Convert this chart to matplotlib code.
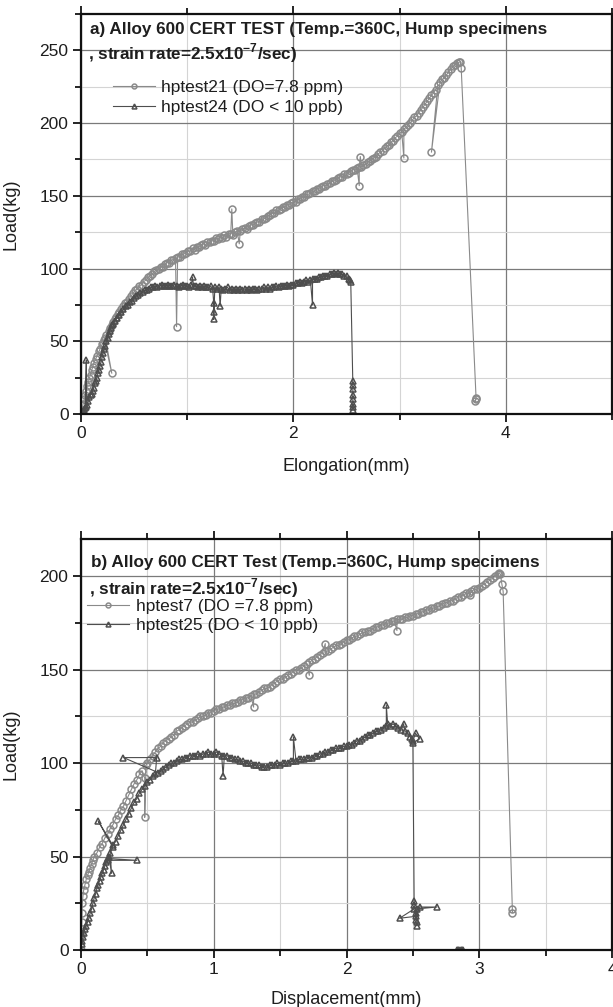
import numpy as np
import matplotlib
matplotlib.use("Agg")
from matplotlib import pyplot as plt
from matplotlib.ticker import MultipleLocator

plt.rcParams['font.family'] = ['Liberation Sans', 'DejaVu Sans']
plt.rcParams['mathtext.fontset'] = 'custom'
plt.rcParams['mathtext.rm'] = 'Liberation Sans'
plt.rcParams['mathtext.bf'] = 'Liberation Sans:bold'

nan = np.nan

# each array: columns = (elongation or displacement in mm, load in kg), in recorded order

# a) hptest21 (DO=7.8 ppm)
a_hp21 = np.array([
    [0.00, 0], [0.01, 3], [0.02, 7], [0.03, 10], [0.04, 13], [0.05, 16], [0.06, 19],
    [0.07, 22], [0.08, 25], [0.09, 27], [0.10, 30], [0.11, 32], [0.12, 35], [0.14, 38],
    [0.15, 40], [0.17, 43], [0.18, 45], [0.20, 48], [0.21, 49], [0.22, 51], [0.29, 28],
    [0.23, 52], [0.24, 54], [0.26, 57], [0.27, 59], [0.29, 61], [0.30, 63], [0.32, 65],
    [0.33, 67], [0.35, 69], [0.36, 70], [0.38, 72], [0.40, 74], [0.41, 76], [0.43, 77],
    [0.45, 79], [0.47, 81], [0.49, 83], [0.51, 85], [0.53, 86], [0.55, 88], [0.57, 89],
    [0.59, 91], [0.61, 92], [0.63, 94], [0.65, 95], [0.67, 96], [0.69, 98], [0.71, 99],
    [0.73, 100], [0.75, 101], [0.77, 101], [0.79, 103], [0.81, 104], [0.83, 104],
    [0.85, 106], [0.87, 106], [0.89, 107], [0.90, 60], [0.91, 108], [0.93, 108],
    [0.95, 110], [0.97, 110], [0.99, 111], [1.01, 112], [1.03, 112], [1.05, 114],
    [1.07, 113], [1.09, 115], [1.11, 115], [1.13, 116], [1.15, 117], [1.17, 116],
    [1.19, 118], [1.21, 118], [1.23, 119], [1.25, 119], [1.27, 121], [1.29, 120],
    [1.31, 122], [1.33, 121], [1.35, 123], [1.37, 122], [1.39, 124], [1.41, 124],
    [1.42, 141], [1.43, 123], [1.45, 125], [1.47, 126], [1.49, 117], [1.50, 126],
    [1.52, 127], [1.54, 128], [1.56, 127], [1.58, 129], [1.60, 130], [1.62, 130],
    [1.64, 131], [1.66, 132], [1.68, 132], [1.70, 134], [1.72, 134], [1.74, 135],
    [1.76, 136], [1.78, 137], [1.80, 138], [1.82, 138], [1.84, 140], [1.86, 140],
    [1.88, 141], [1.90, 142], [1.92, 142], [1.94, 144], [1.96, 144], [1.98, 145],
    [2.00, 146], [2.02, 146], [2.04, 148], [2.06, 148], [2.08, 149], [2.10, 149],
    [2.12, 151], [2.14, 151], [2.16, 152], [2.18, 153], [2.20, 153], [2.22, 155],
    [2.24, 155], [2.26, 156], [2.28, 157], [2.30, 157], [2.32, 158], [2.34, 159],
    [2.36, 160], [2.38, 160], [2.40, 161], [2.42, 162], [2.44, 163], [2.46, 163],
    [2.48, 165], [2.50, 165], [2.52, 166], [2.54, 167], [2.56, 168], [2.58, 168],
    [2.60, 169], [2.62, 157], [2.62, 170], [2.63, 177], [2.64, 170], [2.66, 171],
    [2.68, 172], [2.70, 173], [2.72, 174], [2.74, 175], [2.76, 176], [2.78, 177],
    [2.80, 179], [2.82, 180], [2.84, 181], [2.86, 183], [2.88, 184], [2.90, 185],
    [2.92, 187], [2.94, 188], [2.96, 190], [2.98, 191], [3.00, 193], [3.02, 194],
    [3.04, 176], [3.04, 196], [3.06, 197], [3.08, 199], [3.10, 200], [3.12, 202],
    [3.14, 204], [3.16, 205], [3.18, 207], [3.20, 209], [3.22, 211], [3.24, 213],
    [3.26, 215], [3.28, 217], [3.30, 219], [3.32, 221], [3.34, 223], [3.36, 226],
    [3.30, 180], [3.38, 228], [3.40, 230], [3.42, 231], [3.44, 233], [3.46, 235],
    [3.48, 237], [3.50, 239], [3.52, 240], [3.54, 241], [3.56, 242], [3.57, 242],
    [3.58, 238], [3.72, 11], [3.71, 9], [3.72, 10]])

# a) hptest24 (DO < 10 ppb)
a_hp24 = np.array([
    [0.00, 0], [0.01, 1], [0.02, 2], [0.03, 3], [0.04, 4], [0.05, 37], [0.05, 5],
    [0.06, 6], [0.07, 9], [0.08, 12], [0.09, 13], [0.10, 14], [0.11, 16], [0.12, 18],
    [0.13, 21], [0.14, 23], [0.15, 25], [0.16, 28], [0.17, 30], [0.18, 33], [0.19, 36],
    [0.20, 39], [0.21, 42], [0.22, 45], [0.23, 47], [0.24, 50], [0.25, 52], [0.26, 55],
    [0.27, 57], [0.28, 59], [0.29, 61], [0.30, 62], [0.32, 64], [0.34, 66], [0.36, 68],
    [0.38, 70], [0.40, 72], [0.42, 74], [0.44, 75], [0.46, 77], [0.48, 78], [0.50, 80],
    [0.52, 81], [0.54, 82], [0.56, 83], [0.58, 84], [0.60, 85], [0.62, 85], [0.64, 86],
    [0.66, 87], [0.68, 87], [0.70, 88], [0.72, 87], [0.74, 88], [0.76, 89], [0.78, 88],
    [0.80, 88], [0.82, 89], [0.84, 88], [0.86, 88], [0.88, 89], [0.90, 88], [0.92, 87],
    [0.94, 88], [0.96, 89], [0.98, 88], [1.00, 88], [1.02, 87], [1.04, 89], [1.05, 94],
    [1.06, 88], [1.08, 88], [1.10, 87], [1.12, 88], [1.14, 87], [1.16, 88], [1.18, 87],
    [1.20, 87], [1.22, 88], [1.24, 86], [1.25, 76], [1.25, 70], [1.25, 65], [1.26, 87],
    [1.28, 86], [1.30, 87], [1.31, 74], [1.32, 86], [1.34, 85], [1.36, 86], [1.38, 87],
    [1.40, 85], [1.42, 86], [1.44, 85], [1.46, 86], [1.48, 85], [1.50, 86], [1.52, 85],
    [1.54, 86], [1.56, 85], [1.58, 86], [1.60, 85], [1.62, 86], [1.64, 86], [1.66, 85],
    [1.68, 86], [1.70, 86], [1.72, 87], [1.74, 86], [1.76, 87], [1.78, 86], [1.80, 87],
    [1.82, 87], [1.84, 88], [1.86, 87], [1.88, 88], [1.90, 88], [1.92, 88], [1.94, 89],
    [1.96, 88], [1.98, 89], [2.00, 89], [2.02, 90], [2.04, 90], [2.06, 91], [2.08, 90],
    [2.10, 91], [2.12, 92], [2.14, 91], [2.16, 92], [2.18, 75], [2.18, 93], [2.20, 93],
    [2.22, 93], [2.24, 94], [2.26, 94], [2.28, 95], [2.30, 95], [2.32, 95], [2.34, 96],
    [2.36, 96], [2.38, 97], [2.40, 96], [2.42, 97], [2.44, 96], [2.46, 96], [2.48, 95],
    [2.50, 95], [2.52, 93], [2.53, 92], [2.54, 91], [2.56, 23], [2.56, 20], [2.56, 17],
    [2.56, 13], [2.56, 10], [2.56, 7], [2.56, 5], [2.56, 3]])

# b) hptest7 (DO =7.8 ppm)
b_hp7 = np.array([
    [0.000, 0], [0.003, 8], [0.005, 15], [0.008, 20], [0.010, 25], [0.015, 29],
    [0.02, 32], [0.03, 35], [0.04, 38], [0.05, 40], [0.06, 42], [0.07, 44], [0.08, 46],
    [0.09, 48], [0.10, 50], [0.12, 52], [0.14, 55], [0.16, 57], [0.18, 60], [0.20, 62],
    [0.22, 65], [0.24, 67], [0.26, 70], [0.28, 72], [0.30, 75], [0.32, 77], [0.34, 80],
    [0.36, 83], [0.38, 86], [0.40, 89], [0.42, 91], [0.44, 94], [0.46, 96], [0.48, 92],
    [0.48, 71], [0.49, 99], [0.50, 100], [0.52, 102], [0.54, 104], [0.56, 106],
    [0.58, 108], [0.60, 109], [0.62, 111], [0.64, 112], [0.66, 113], [0.68, 114],
    [0.70, 115], [0.72, 117], [0.74, 118], [0.76, 119], [0.78, 120], [0.80, 121],
    [0.82, 122], [0.84, 122], [0.86, 123], [0.88, 124], [0.90, 125], [0.92, 125],
    [0.94, 126], [0.96, 127], [0.98, 127], [1.00, 128], [1.02, 129], [1.04, 129],
    [1.06, 130], [1.08, 130], [1.10, 131], [1.12, 131], [1.14, 132], [1.16, 132],
    [1.18, 133], [1.20, 134], [1.22, 134], [1.24, 135], [1.26, 135], [1.28, 136],
    [1.30, 130], [1.30, 137], [1.32, 137], [1.34, 138], [1.36, 139], [1.38, 140],
    [1.40, 140], [1.42, 141], [1.44, 142], [1.46, 143], [1.48, 144], [1.50, 145],
    [1.52, 145], [1.54, 146], [1.56, 147], [1.58, 148], [1.60, 149], [1.62, 150],
    [1.64, 150], [1.66, 151], [1.68, 152], [1.70, 153], [1.72, 147], [1.72, 154],
    [1.74, 155], [1.76, 156], [1.78, 157], [1.80, 158], [1.82, 159], [1.84, 164],
    [1.84, 160], [1.86, 160], [1.88, 161], [1.90, 162], [1.92, 163], [1.94, 163],
    [1.96, 164], [1.98, 165], [2.00, 166], [2.02, 166], [2.04, 167], [2.06, 168],
    [2.08, 168], [2.10, 169], [2.12, 170], [2.14, 170], [2.16, 171], [2.18, 171],
    [2.20, 172], [2.22, 173], [2.24, 173], [2.26, 174], [2.28, 174], [2.30, 175],
    [2.32, 175], [2.34, 176], [2.36, 176], [2.38, 171], [2.38, 177], [2.40, 177],
    [2.42, 177], [2.44, 178], [2.46, 178], [2.48, 179], [2.50, 179], [2.52, 180],
    [2.54, 180], [2.56, 181], [2.58, 181], [2.60, 182], [2.62, 182], [2.64, 183],
    [2.66, 183], [2.68, 184], [2.70, 184], [2.72, 185], [2.74, 186], [2.76, 186],
    [2.78, 187], [2.80, 187], [2.82, 188], [2.84, 189], [2.86, 189], [2.88, 190],
    [2.90, 191], [2.92, 191], [2.93, 190], [2.94, 192], [2.96, 193], [2.98, 193],
    [3.00, 194], [3.02, 195], [3.04, 196], [3.06, 197], [3.08, 198], [3.10, 199],
    [3.12, 200], [3.14, 201], [3.15, 202], [3.16, 201], [3.17, 196], [3.18, 192],
    [3.25, 22], [3.25, 20]])

# b) hptest25 (DO < 10 ppb)
b_hp25 = np.array([
    [0.000, 0], [0.005, 3], [0.010, 5], [0.015, 7], [0.02, 9], [0.03, 11], [0.04, 13],
    [0.05, 15], [0.06, 17], [0.07, 20], [0.08, 22], [0.09, 25], [0.10, 28], [0.11, 30],
    [0.12, 33], [0.13, 35], [0.14, 37], [0.15, 39], [0.16, 41], [0.17, 43], [0.18, 45],
    [0.19, 47], [0.20, 49], [0.42, 48], [0.20, 48], [0.21, 50], [0.23, 41], [0.22, 52],
    [0.24, 55], [0.13, 69], [0.24, 56], [0.26, 58], [0.28, 61], [0.30, 64], [0.32, 67],
    [0.34, 70], [0.36, 73], [0.38, 76], [0.40, 79], [0.42, 81], [0.44, 84], [0.46, 86],
    [0.48, 88], [0.50, 90], [0.52, 91], [0.54, 93], [0.56, 94], [0.57, 103], [0.32, 103],
    [0.58, 95], [0.60, 96], [0.62, 97], [0.64, 98], [0.66, 99], [0.68, 100], [0.70, 100],
    [0.72, 101], [0.74, 102], [0.76, 102], [0.78, 103], [0.80, 103], [0.82, 104],
    [0.84, 104], [0.86, 104], [0.88, 105], [0.90, 104], [0.92, 105], [0.94, 105],
    [0.96, 106], [0.98, 105], [1.00, 105], [1.02, 106], [1.04, 105], [1.06, 104],
    [1.07, 93], [1.08, 104], [1.10, 104], [1.12, 103], [1.14, 103], [1.16, 102],
    [1.18, 102], [1.20, 101], [1.22, 101], [1.24, 100], [1.26, 100], [1.28, 100],
    [1.30, 99], [1.32, 99], [1.34, 99], [1.36, 98], [1.38, 98], [1.40, 98], [1.42, 99],
    [1.44, 99], [1.46, 99], [1.48, 100], [1.50, 99], [1.52, 100], [1.54, 100],
    [1.56, 100], [1.58, 101], [1.60, 101], [1.60, 114], [1.62, 101], [1.64, 102],
    [1.66, 102], [1.68, 102], [1.70, 103], [1.72, 103], [1.74, 103], [1.76, 104],
    [1.78, 104], [1.80, 105], [1.82, 105], [1.84, 106], [1.86, 106], [1.88, 107],
    [1.90, 107], [1.92, 108], [1.94, 108], [1.96, 108], [1.98, 109], [2.00, 109],
    [2.02, 110], [2.04, 110], [2.06, 111], [2.08, 112], [2.10, 112], [2.12, 113],
    [2.14, 114], [2.16, 115], [2.18, 115], [2.20, 116], [2.22, 117], [2.24, 117],
    [2.26, 118], [2.28, 119], [2.30, 120], [2.30, 131], [2.31, 121], [2.33, 120],
    [2.35, 121], [2.37, 120], [2.39, 119], [2.41, 118], [2.43, 121], [2.44, 117],
    [2.46, 116], [2.48, 114], [2.49, 113], [2.50, 112], [2.52, 116], [2.55, 113],
    [2.50, 111], [2.51, 26], [2.51, 24], [2.51, 22], [2.40, 17], [2.52, 18], [2.52, 20],
    [2.52, 16], [2.55, 23], [2.68, 23], [2.53, 22], [2.53, 15], [2.53, 13], [nan, nan],
    [2.83, 0], [2.84, 0], [2.85, 0], [2.86, 0], [2.87, 0], [2.88, 0]])

c_light = '#8a8a8a'
c_dark = '#4e4e4e'
txt = '#1e1e1e'


def style_axes(ax, xmax, ymax, xmajor, xminor):
    ax.set_xlim(0, xmax)
    ax.set_ylim(0, ymax)
    ax.xaxis.set_major_locator(MultipleLocator(xmajor))
    ax.xaxis.set_minor_locator(MultipleLocator(xminor))
    ax.yaxis.set_major_locator(MultipleLocator(50))
    ax.yaxis.set_minor_locator(MultipleLocator(25))
    ax.grid(which='major', color='#7a7a7a', lw=0.9)
    ax.grid(which='minor', color='#d4d4d4', lw=0.8)
    ax.set_axisbelow(True)
    ax.tick_params(which='both', direction='out', top=True, right=True,
                   labelsize=12.5, labelcolor=txt, width=1.2)
    ax.tick_params(which='major', length=6, pad=3)
    ax.tick_params(which='minor', length=4)
    for s in ax.spines.values():
        s.set_linewidth(1.6)
        s.set_color('#111111')


def draw(ax, data, marker, color):
    line, = ax.plot(data[:, 0], data[:, 1], '-', color=color, lw=0.8, marker=marker,
                    ms=5.0, mfc='none', mec=color, mew=1.1)
    return line


fig = plt.figure(figsize=(6.13, 10.07), dpi=100)

# top panel
ax1 = fig.add_axes([81 / 613, 1 - 414 / 1007, 531 / 613, 400 / 1007])
style_axes(ax1, 5, 275, 2, 1)
l1 = draw(ax1, a_hp21, 'o', c_light)
l2 = draw(ax1, a_hp24, '^', c_dark)
ax1.text(0.017, 0.962, 'a) Alloy 600 CERT TEST (Temp.=360C, Hump specimens',
         transform=ax1.transAxes, fontsize=12.3, fontweight='bold', color=txt, va='center')
ax1.text(0.013, 0.902, r', strain rate=2.5x10$^{\mathbf{-7}}$/sec)',
         transform=ax1.transAxes, fontsize=12.3, fontweight='bold', color=txt, va='center')
leg1 = ax1.legend([l1, l2], ['hptest21 (DO=7.8 ppm)', 'hptest24 (DO < 10 ppb)'],
                  loc='upper left', bbox_to_anchor=(0.06, 0.835), frameon=False,
                  fontsize=12.5, handlelength=2.4, handletextpad=0.4, labelspacing=0.25,
                  borderpad=0, borderaxespad=0, numpoints=1, labelcolor=txt)
for h in leg1.get_lines():
    h.set_markersize(3.5)
ax1.set_xlabel('Elongation(mm)', fontsize=13, color=txt)
ax1.set_ylabel('Load(kg)', fontsize=13, color=txt)
ax1.xaxis.set_label_coords(0.5, -0.11)
ax1.yaxis.set_label_coords(-0.115, 0.5)

# bottom panel
ax2 = fig.add_axes([81 / 613, 1 - 950 / 1007, 531 / 613, 411 / 1007])
style_axes(ax2, 4, 220, 1, 0.5)
m1 = draw(ax2, b_hp7, 'o', c_light)
m2 = draw(ax2, b_hp25, '^', c_dark)
ax2.text(0.019, 0.942, 'b) Alloy 600 CERT Test (Temp.=360C, Hump specimens',
         transform=ax2.transAxes, fontsize=12.3, fontweight='bold', color=txt, va='center')
ax2.text(0.015, 0.881, r', strain rate=2.5x10$^{\mathbf{-7}}$/sec)',
         transform=ax2.transAxes, fontsize=12.3, fontweight='bold', color=txt, va='center')
leg2 = ax2.legend([m1, m2], ['hptest7 (DO =7.8 ppm)', 'hptest25 (DO < 10 ppb)'],
                  loc='upper left', bbox_to_anchor=(0.012, 0.855), frameon=False,
                  fontsize=12.5, handlelength=2.4, handletextpad=0.4, labelspacing=0.25,
                  borderpad=0, borderaxespad=0, numpoints=1, labelcolor=txt)
for h in leg2.get_lines():
    h.set_markersize(3.5)
ax2.set_xlabel('Displacement(mm)', fontsize=13, color=txt)
ax2.set_ylabel('Load(kg)', fontsize=13, color=txt)
ax2.xaxis.set_label_coords(0.5, -0.1)
ax2.yaxis.set_label_coords(-0.115, 0.5)

fig.savefig('out.png', dpi=100)
